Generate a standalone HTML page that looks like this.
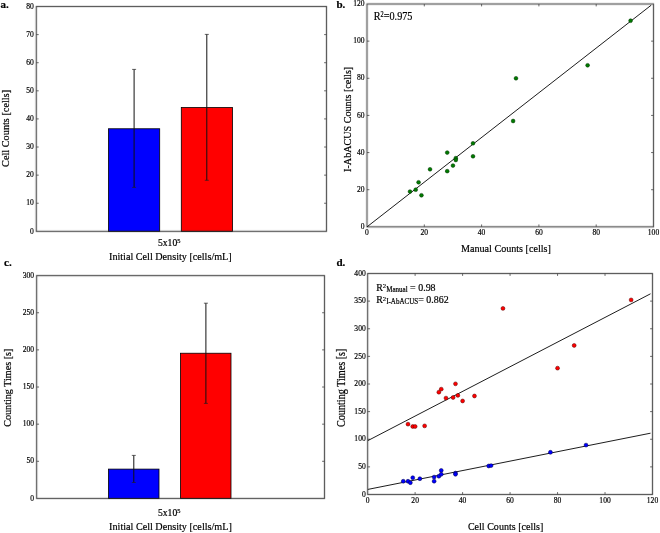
<!DOCTYPE html>
<html><head><meta charset="utf-8"><style>
html,body{margin:0;padding:0;background:#fff;}
svg{display:block;will-change:transform;}
text{font-family:"Liberation Serif", serif;stroke:#000;stroke-width:0.2px;}
</style></head><body>
<svg width="660" height="533" viewBox="0 0 660 533">
<defs><filter id="soft" x="0" y="0" width="660" height="533" filterUnits="userSpaceOnUse" color-interpolation-filters="sRGB"><feConvolveMatrix order="3" kernelMatrix="1 6 1 6 36 6 1 6 1" divisor="64" edgeMode="duplicate"/></filter></defs>
<g>
<rect width="660" height="533" fill="#fff"/>
<rect x="108.5" y="128.76" width="51.2" height="102.59" fill="#0000ff" stroke="#000" stroke-width="0.8"/>
<rect x="181.3" y="107.51" width="51.2" height="123.84" fill="#ff0000" stroke="#000" stroke-width="0.8"/>
<line x1="134.10" y1="69.40" x2="134.10" y2="187.40" stroke="#111" stroke-width="1.0"/>
<line x1="132.10" y1="69.40" x2="136.10" y2="69.40" stroke="#222" stroke-width="0.7"/>
<line x1="132.10" y1="187.40" x2="136.10" y2="187.40" stroke="#222" stroke-width="0.7"/>
<line x1="206.80" y1="34.40" x2="206.80" y2="180.30" stroke="#111" stroke-width="1.0"/>
<line x1="204.80" y1="34.40" x2="208.80" y2="34.40" stroke="#222" stroke-width="0.7"/>
<line x1="204.80" y1="180.30" x2="208.80" y2="180.30" stroke="#222" stroke-width="0.7"/>
<rect x="36.3" y="6.5" width="290.20" height="224.85" fill="none" stroke="#262626" stroke-width="1" filter="url(#soft)"/>
<line x1="36.30" y1="203.24" x2="38.70" y2="203.24" stroke="#444" stroke-width="0.8"/>
<line x1="326.50" y1="203.24" x2="324.10" y2="203.24" stroke="#444" stroke-width="0.8"/>
<line x1="36.30" y1="175.14" x2="38.70" y2="175.14" stroke="#444" stroke-width="0.8"/>
<line x1="326.50" y1="175.14" x2="324.10" y2="175.14" stroke="#444" stroke-width="0.8"/>
<line x1="36.30" y1="147.03" x2="38.70" y2="147.03" stroke="#444" stroke-width="0.8"/>
<line x1="326.50" y1="147.03" x2="324.10" y2="147.03" stroke="#444" stroke-width="0.8"/>
<line x1="36.30" y1="118.92" x2="38.70" y2="118.92" stroke="#444" stroke-width="0.8"/>
<line x1="326.50" y1="118.92" x2="324.10" y2="118.92" stroke="#444" stroke-width="0.8"/>
<line x1="36.30" y1="90.82" x2="38.70" y2="90.82" stroke="#444" stroke-width="0.8"/>
<line x1="326.50" y1="90.82" x2="324.10" y2="90.82" stroke="#444" stroke-width="0.8"/>
<line x1="36.30" y1="62.71" x2="38.70" y2="62.71" stroke="#444" stroke-width="0.8"/>
<line x1="326.50" y1="62.71" x2="324.10" y2="62.71" stroke="#444" stroke-width="0.8"/>
<line x1="36.30" y1="34.61" x2="38.70" y2="34.61" stroke="#444" stroke-width="0.8"/>
<line x1="326.50" y1="34.61" x2="324.10" y2="34.61" stroke="#444" stroke-width="0.8"/>
<rect x="367.0" y="4.0" width="286.50" height="222.85" fill="none" stroke="#262626" stroke-width="1" filter="url(#soft)"/>
<line x1="367.00" y1="189.71" x2="369.40" y2="189.71" stroke="#444" stroke-width="0.8"/>
<line x1="653.50" y1="189.71" x2="651.10" y2="189.71" stroke="#444" stroke-width="0.8"/>
<line x1="367.00" y1="152.57" x2="369.40" y2="152.57" stroke="#444" stroke-width="0.8"/>
<line x1="653.50" y1="152.57" x2="651.10" y2="152.57" stroke="#444" stroke-width="0.8"/>
<line x1="367.00" y1="115.42" x2="369.40" y2="115.42" stroke="#444" stroke-width="0.8"/>
<line x1="653.50" y1="115.42" x2="651.10" y2="115.42" stroke="#444" stroke-width="0.8"/>
<line x1="367.00" y1="78.28" x2="369.40" y2="78.28" stroke="#444" stroke-width="0.8"/>
<line x1="653.50" y1="78.28" x2="651.10" y2="78.28" stroke="#444" stroke-width="0.8"/>
<line x1="367.00" y1="41.14" x2="369.40" y2="41.14" stroke="#444" stroke-width="0.8"/>
<line x1="653.50" y1="41.14" x2="651.10" y2="41.14" stroke="#444" stroke-width="0.8"/>
<line x1="424.30" y1="226.85" x2="424.30" y2="224.45" stroke="#444" stroke-width="0.8"/>
<line x1="424.30" y1="4.00" x2="424.30" y2="6.40" stroke="#444" stroke-width="0.8"/>
<line x1="481.60" y1="226.85" x2="481.60" y2="224.45" stroke="#444" stroke-width="0.8"/>
<line x1="481.60" y1="4.00" x2="481.60" y2="6.40" stroke="#444" stroke-width="0.8"/>
<line x1="538.90" y1="226.85" x2="538.90" y2="224.45" stroke="#444" stroke-width="0.8"/>
<line x1="538.90" y1="4.00" x2="538.90" y2="6.40" stroke="#444" stroke-width="0.8"/>
<line x1="596.20" y1="226.85" x2="596.20" y2="224.45" stroke="#444" stroke-width="0.8"/>
<line x1="596.20" y1="4.00" x2="596.20" y2="6.40" stroke="#444" stroke-width="0.8"/>
<line x1="367.00" y1="226.85" x2="651.20" y2="5.20" stroke="#111" stroke-width="0.95"/>
<circle cx="409.98" cy="191.57" r="1.9" fill="#007a00" stroke="#003300" stroke-width="0.5"/>
<circle cx="415.70" cy="189.71" r="1.9" fill="#007a00" stroke="#003300" stroke-width="0.5"/>
<circle cx="418.57" cy="182.28" r="1.9" fill="#007a00" stroke="#003300" stroke-width="0.5"/>
<circle cx="421.44" cy="195.28" r="1.9" fill="#007a00" stroke="#003300" stroke-width="0.5"/>
<circle cx="430.03" cy="169.28" r="1.9" fill="#007a00" stroke="#003300" stroke-width="0.5"/>
<circle cx="447.22" cy="152.57" r="1.9" fill="#007a00" stroke="#003300" stroke-width="0.5"/>
<circle cx="447.22" cy="171.14" r="1.9" fill="#007a00" stroke="#003300" stroke-width="0.5"/>
<circle cx="452.95" cy="165.57" r="1.9" fill="#007a00" stroke="#003300" stroke-width="0.5"/>
<circle cx="455.81" cy="158.14" r="1.9" fill="#007a00" stroke="#003300" stroke-width="0.5"/>
<circle cx="455.81" cy="160.00" r="1.9" fill="#007a00" stroke="#003300" stroke-width="0.5"/>
<circle cx="473.00" cy="143.28" r="1.9" fill="#007a00" stroke="#003300" stroke-width="0.5"/>
<circle cx="473.00" cy="156.28" r="1.9" fill="#007a00" stroke="#003300" stroke-width="0.5"/>
<circle cx="513.12" cy="121.00" r="1.9" fill="#007a00" stroke="#003300" stroke-width="0.5"/>
<circle cx="515.98" cy="78.28" r="1.9" fill="#007a00" stroke="#003300" stroke-width="0.5"/>
<circle cx="587.61" cy="65.28" r="1.9" fill="#007a00" stroke="#003300" stroke-width="0.5"/>
<circle cx="630.58" cy="20.71" r="1.9" fill="#007a00" stroke="#003300" stroke-width="0.5"/>
<rect x="108.5" y="469.11" width="50.5" height="29.34" fill="#0000ff" stroke="#000" stroke-width="0.8"/>
<rect x="180.5" y="353.23" width="50.5" height="145.22" fill="#ff0000" stroke="#000" stroke-width="0.8"/>
<line x1="133.80" y1="455.40" x2="133.80" y2="482.50" stroke="#111" stroke-width="1.0"/>
<line x1="131.80" y1="455.40" x2="135.80" y2="455.40" stroke="#222" stroke-width="0.7"/>
<line x1="131.80" y1="482.50" x2="135.80" y2="482.50" stroke="#222" stroke-width="0.7"/>
<line x1="205.90" y1="303.20" x2="205.90" y2="403.40" stroke="#111" stroke-width="1.0"/>
<line x1="203.90" y1="303.20" x2="207.90" y2="303.20" stroke="#222" stroke-width="0.7"/>
<line x1="203.90" y1="403.40" x2="207.90" y2="403.40" stroke="#222" stroke-width="0.7"/>
<rect x="36.65" y="275.6" width="287.85" height="222.85" fill="none" stroke="#262626" stroke-width="1" filter="url(#soft)"/>
<line x1="36.65" y1="461.31" x2="39.05" y2="461.31" stroke="#444" stroke-width="0.8"/>
<line x1="324.50" y1="461.31" x2="322.10" y2="461.31" stroke="#444" stroke-width="0.8"/>
<line x1="36.65" y1="424.17" x2="39.05" y2="424.17" stroke="#444" stroke-width="0.8"/>
<line x1="324.50" y1="424.17" x2="322.10" y2="424.17" stroke="#444" stroke-width="0.8"/>
<line x1="36.65" y1="387.03" x2="39.05" y2="387.03" stroke="#444" stroke-width="0.8"/>
<line x1="324.50" y1="387.03" x2="322.10" y2="387.03" stroke="#444" stroke-width="0.8"/>
<line x1="36.65" y1="349.88" x2="39.05" y2="349.88" stroke="#444" stroke-width="0.8"/>
<line x1="324.50" y1="349.88" x2="322.10" y2="349.88" stroke="#444" stroke-width="0.8"/>
<line x1="36.65" y1="312.74" x2="39.05" y2="312.74" stroke="#444" stroke-width="0.8"/>
<line x1="324.50" y1="312.74" x2="322.10" y2="312.74" stroke="#444" stroke-width="0.8"/>
<rect x="367.65" y="273.5" width="284.85" height="221.00" fill="none" stroke="#262626" stroke-width="1" filter="url(#soft)"/>
<line x1="367.65" y1="466.88" x2="370.05" y2="466.88" stroke="#444" stroke-width="0.8"/>
<line x1="652.50" y1="466.88" x2="650.10" y2="466.88" stroke="#444" stroke-width="0.8"/>
<line x1="367.65" y1="439.25" x2="370.05" y2="439.25" stroke="#444" stroke-width="0.8"/>
<line x1="652.50" y1="439.25" x2="650.10" y2="439.25" stroke="#444" stroke-width="0.8"/>
<line x1="367.65" y1="411.62" x2="370.05" y2="411.62" stroke="#444" stroke-width="0.8"/>
<line x1="652.50" y1="411.62" x2="650.10" y2="411.62" stroke="#444" stroke-width="0.8"/>
<line x1="367.65" y1="384.00" x2="370.05" y2="384.00" stroke="#444" stroke-width="0.8"/>
<line x1="652.50" y1="384.00" x2="650.10" y2="384.00" stroke="#444" stroke-width="0.8"/>
<line x1="367.65" y1="356.38" x2="370.05" y2="356.38" stroke="#444" stroke-width="0.8"/>
<line x1="652.50" y1="356.38" x2="650.10" y2="356.38" stroke="#444" stroke-width="0.8"/>
<line x1="367.65" y1="328.75" x2="370.05" y2="328.75" stroke="#444" stroke-width="0.8"/>
<line x1="652.50" y1="328.75" x2="650.10" y2="328.75" stroke="#444" stroke-width="0.8"/>
<line x1="367.65" y1="301.12" x2="370.05" y2="301.12" stroke="#444" stroke-width="0.8"/>
<line x1="652.50" y1="301.12" x2="650.10" y2="301.12" stroke="#444" stroke-width="0.8"/>
<line x1="415.12" y1="494.50" x2="415.12" y2="492.10" stroke="#444" stroke-width="0.8"/>
<line x1="415.12" y1="273.50" x2="415.12" y2="275.90" stroke="#444" stroke-width="0.8"/>
<line x1="462.60" y1="494.50" x2="462.60" y2="492.10" stroke="#444" stroke-width="0.8"/>
<line x1="462.60" y1="273.50" x2="462.60" y2="275.90" stroke="#444" stroke-width="0.8"/>
<line x1="510.07" y1="494.50" x2="510.07" y2="492.10" stroke="#444" stroke-width="0.8"/>
<line x1="510.07" y1="273.50" x2="510.07" y2="275.90" stroke="#444" stroke-width="0.8"/>
<line x1="557.55" y1="494.50" x2="557.55" y2="492.10" stroke="#444" stroke-width="0.8"/>
<line x1="557.55" y1="273.50" x2="557.55" y2="275.90" stroke="#444" stroke-width="0.8"/>
<line x1="605.02" y1="494.50" x2="605.02" y2="492.10" stroke="#444" stroke-width="0.8"/>
<line x1="605.02" y1="273.50" x2="605.02" y2="275.90" stroke="#444" stroke-width="0.8"/>
<line x1="367.90" y1="440.60" x2="650.50" y2="293.80" stroke="#111" stroke-width="0.95"/>
<line x1="367.90" y1="489.40" x2="650.50" y2="433.20" stroke="#111" stroke-width="0.95"/>
<circle cx="408.00" cy="424.17" r="1.95" fill="#ff0000" stroke="#550000" stroke-width="0.5"/>
<circle cx="412.75" cy="426.49" r="1.95" fill="#ff0000" stroke="#550000" stroke-width="0.5"/>
<circle cx="415.12" cy="426.49" r="1.95" fill="#ff0000" stroke="#550000" stroke-width="0.5"/>
<circle cx="424.62" cy="425.88" r="1.95" fill="#ff0000" stroke="#550000" stroke-width="0.5"/>
<circle cx="438.86" cy="392.18" r="1.95" fill="#ff0000" stroke="#550000" stroke-width="0.5"/>
<circle cx="441.24" cy="389.14" r="1.95" fill="#ff0000" stroke="#550000" stroke-width="0.5"/>
<circle cx="455.48" cy="383.83" r="1.95" fill="#ff0000" stroke="#550000" stroke-width="0.5"/>
<circle cx="445.98" cy="398.09" r="1.95" fill="#ff0000" stroke="#550000" stroke-width="0.5"/>
<circle cx="453.10" cy="397.48" r="1.95" fill="#ff0000" stroke="#550000" stroke-width="0.5"/>
<circle cx="457.85" cy="395.38" r="1.95" fill="#ff0000" stroke="#550000" stroke-width="0.5"/>
<circle cx="462.60" cy="400.96" r="1.95" fill="#ff0000" stroke="#550000" stroke-width="0.5"/>
<circle cx="474.47" cy="395.99" r="1.95" fill="#ff0000" stroke="#550000" stroke-width="0.5"/>
<circle cx="502.95" cy="308.42" r="1.95" fill="#ff0000" stroke="#550000" stroke-width="0.5"/>
<circle cx="557.55" cy="368.14" r="1.95" fill="#ff0000" stroke="#550000" stroke-width="0.5"/>
<circle cx="574.17" cy="345.44" r="1.95" fill="#ff0000" stroke="#550000" stroke-width="0.5"/>
<circle cx="631.14" cy="299.91" r="1.95" fill="#ff0000" stroke="#550000" stroke-width="0.5"/>
<circle cx="403.26" cy="481.24" r="1.95" fill="#0000ff" stroke="#000044" stroke-width="0.5"/>
<circle cx="408.00" cy="481.24" r="1.95" fill="#0000ff" stroke="#000044" stroke-width="0.5"/>
<circle cx="410.38" cy="482.68" r="1.95" fill="#0000ff" stroke="#000044" stroke-width="0.5"/>
<circle cx="412.75" cy="477.70" r="1.95" fill="#0000ff" stroke="#000044" stroke-width="0.5"/>
<circle cx="419.87" cy="478.70" r="1.95" fill="#0000ff" stroke="#000044" stroke-width="0.5"/>
<circle cx="434.12" cy="477.10" r="1.95" fill="#0000ff" stroke="#000044" stroke-width="0.5"/>
<circle cx="434.12" cy="481.18" r="1.95" fill="#0000ff" stroke="#000044" stroke-width="0.5"/>
<circle cx="438.86" cy="476.21" r="1.95" fill="#0000ff" stroke="#000044" stroke-width="0.5"/>
<circle cx="441.24" cy="474.28" r="1.95" fill="#0000ff" stroke="#000044" stroke-width="0.5"/>
<circle cx="441.24" cy="470.41" r="1.95" fill="#0000ff" stroke="#000044" stroke-width="0.5"/>
<circle cx="455.48" cy="473.12" r="1.95" fill="#0000ff" stroke="#000044" stroke-width="0.5"/>
<circle cx="455.48" cy="474.28" r="1.95" fill="#0000ff" stroke="#000044" stroke-width="0.5"/>
<circle cx="488.71" cy="465.99" r="1.95" fill="#0000ff" stroke="#000044" stroke-width="0.5"/>
<circle cx="491.08" cy="465.60" r="1.95" fill="#0000ff" stroke="#000044" stroke-width="0.5"/>
<circle cx="550.43" cy="452.29" r="1.95" fill="#0000ff" stroke="#000044" stroke-width="0.5"/>
<circle cx="586.03" cy="445.11" r="1.95" fill="#0000ff" stroke="#000044" stroke-width="0.5"/>
</g>
<g>
<text x="0.00" y="0.00" font-size="8.4" text-anchor="end" font-weight="normal" fill="#000" transform="translate(33.80 233.52) scale(0.9 1)">0</text>
<text x="0.00" y="0.00" font-size="8.4" text-anchor="end" font-weight="normal" fill="#000" transform="translate(33.80 205.42) scale(0.9 1)">10</text>
<text x="0.00" y="0.00" font-size="8.4" text-anchor="end" font-weight="normal" fill="#000" transform="translate(33.80 177.31) scale(0.9 1)">20</text>
<text x="0.00" y="0.00" font-size="8.4" text-anchor="end" font-weight="normal" fill="#000" transform="translate(33.80 149.20) scale(0.9 1)">30</text>
<text x="0.00" y="0.00" font-size="8.4" text-anchor="end" font-weight="normal" fill="#000" transform="translate(33.80 121.10) scale(0.9 1)">40</text>
<text x="0.00" y="0.00" font-size="8.4" text-anchor="end" font-weight="normal" fill="#000" transform="translate(33.80 92.99) scale(0.9 1)">50</text>
<text x="0.00" y="0.00" font-size="8.4" text-anchor="end" font-weight="normal" fill="#000" transform="translate(33.80 64.88) scale(0.9 1)">60</text>
<text x="0.00" y="0.00" font-size="8.4" text-anchor="end" font-weight="normal" fill="#000" transform="translate(33.80 36.78) scale(0.9 1)">70</text>
<text x="0.00" y="0.00" font-size="8.4" text-anchor="end" font-weight="normal" fill="#000" transform="translate(33.80 8.67) scale(0.9 1)">80</text>
<text x="0.50" y="8.00" font-size="11" text-anchor="start" font-weight="bold" fill="#000">a.</text>
<text x="9.10" y="166.90" font-size="11.4" text-anchor="start" font-weight="normal" fill="#000" textLength="77.00" lengthAdjust="spacingAndGlyphs" transform="rotate(-90 9.10 166.90)">Cell Counts [cells]</text>
<text x="158" y="245.9" font-size="9.6">5x10<tspan font-size="6.4" dy="-2.6">5</tspan></text>
<text x="109.00" y="260.10" font-size="11.3" text-anchor="start" font-weight="normal" fill="#000" textLength="122.70" lengthAdjust="spacingAndGlyphs">Initial Cell Density [cells/mL]</text>
<text x="0.00" y="0.00" font-size="8.4" text-anchor="end" font-weight="normal" fill="#000" transform="translate(364.60 229.02) scale(0.9 1)">0</text>
<text x="0.00" y="0.00" font-size="8.4" text-anchor="end" font-weight="normal" fill="#000" transform="translate(364.60 191.88) scale(0.9 1)">20</text>
<text x="0.00" y="0.00" font-size="8.4" text-anchor="end" font-weight="normal" fill="#000" transform="translate(364.60 154.74) scale(0.9 1)">40</text>
<text x="0.00" y="0.00" font-size="8.4" text-anchor="end" font-weight="normal" fill="#000" transform="translate(364.60 117.60) scale(0.9 1)">60</text>
<text x="0.00" y="0.00" font-size="8.4" text-anchor="end" font-weight="normal" fill="#000" transform="translate(364.60 80.46) scale(0.9 1)">80</text>
<text x="0.00" y="0.00" font-size="8.4" text-anchor="end" font-weight="normal" fill="#000" transform="translate(364.60 43.31) scale(0.9 1)">100</text>
<text x="0.00" y="0.00" font-size="8.4" text-anchor="end" font-weight="normal" fill="#000" transform="translate(364.60 6.17) scale(0.9 1)">120</text>
<text x="0.00" y="0.00" font-size="8.4" text-anchor="middle" font-weight="normal" fill="#000" transform="translate(367.00 235.14) scale(0.9 1)">0</text>
<text x="0.00" y="0.00" font-size="8.4" text-anchor="middle" font-weight="normal" fill="#000" transform="translate(424.30 235.14) scale(0.9 1)">20</text>
<text x="0.00" y="0.00" font-size="8.4" text-anchor="middle" font-weight="normal" fill="#000" transform="translate(481.60 235.14) scale(0.9 1)">40</text>
<text x="0.00" y="0.00" font-size="8.4" text-anchor="middle" font-weight="normal" fill="#000" transform="translate(538.90 235.14) scale(0.9 1)">60</text>
<text x="0.00" y="0.00" font-size="8.4" text-anchor="middle" font-weight="normal" fill="#000" transform="translate(596.20 235.14) scale(0.9 1)">80</text>
<text x="0.00" y="0.00" font-size="8.4" text-anchor="middle" font-weight="normal" fill="#000" transform="translate(653.50 235.14) scale(0.9 1)">100</text>
<text x="336.50" y="8.20" font-size="11" text-anchor="start" font-weight="bold" fill="#000">b.</text>
<text x="0" y="0" font-size="11.8" transform="translate(373.8 19.5) scale(0.865 1)">R<tspan font-size="7.3" dy="-2.9">2</tspan><tspan dy="2.9">=0.975</tspan></text>
<text x="461.00" y="252.40" font-size="11.3" text-anchor="start" font-weight="normal" fill="#000" textLength="89.80" lengthAdjust="spacingAndGlyphs">Manual Counts [cells]</text>
<text x="351.00" y="171.90" font-size="11.3" text-anchor="start" font-weight="normal" fill="#000" textLength="105.10" lengthAdjust="spacingAndGlyphs" transform="rotate(-90 351.00 171.90)">I-AbACUS Counts [cells]</text>
<text x="0.00" y="0.00" font-size="8.4" text-anchor="end" font-weight="normal" fill="#000" transform="translate(34.10 500.62) scale(0.9 1)">0</text>
<text x="0.00" y="0.00" font-size="8.4" text-anchor="end" font-weight="normal" fill="#000" transform="translate(34.10 463.48) scale(0.9 1)">50</text>
<text x="0.00" y="0.00" font-size="8.4" text-anchor="end" font-weight="normal" fill="#000" transform="translate(34.10 426.34) scale(0.9 1)">100</text>
<text x="0.00" y="0.00" font-size="8.4" text-anchor="end" font-weight="normal" fill="#000" transform="translate(34.10 389.20) scale(0.9 1)">150</text>
<text x="0.00" y="0.00" font-size="8.4" text-anchor="end" font-weight="normal" fill="#000" transform="translate(34.10 352.06) scale(0.9 1)">200</text>
<text x="0.00" y="0.00" font-size="8.4" text-anchor="end" font-weight="normal" fill="#000" transform="translate(34.10 314.91) scale(0.9 1)">250</text>
<text x="0.00" y="0.00" font-size="8.4" text-anchor="end" font-weight="normal" fill="#000" transform="translate(34.10 277.77) scale(0.9 1)">300</text>
<text x="4.00" y="266.20" font-size="11" text-anchor="start" font-weight="bold" fill="#000">c.</text>
<text x="10.90" y="426.80" font-size="11.3" text-anchor="start" font-weight="normal" fill="#000" textLength="78.20" lengthAdjust="spacingAndGlyphs" transform="rotate(-90 10.90 426.80)">Counting Times [s]</text>
<text x="158" y="515.5" font-size="9.6">5x10<tspan font-size="6.4" dy="-2.6">5</tspan></text>
<text x="109.10" y="529.50" font-size="11.3" text-anchor="start" font-weight="normal" fill="#000" textLength="122.70" lengthAdjust="spacingAndGlyphs">Initial Cell Density [cells/mL]</text>
<text x="0.00" y="0.00" font-size="8.4" text-anchor="end" font-weight="normal" fill="#000" transform="translate(365.70 496.67) scale(0.9 1)">0</text>
<text x="0.00" y="0.00" font-size="8.4" text-anchor="end" font-weight="normal" fill="#000" transform="translate(365.70 469.05) scale(0.9 1)">50</text>
<text x="0.00" y="0.00" font-size="8.4" text-anchor="end" font-weight="normal" fill="#000" transform="translate(365.70 441.42) scale(0.9 1)">100</text>
<text x="0.00" y="0.00" font-size="8.4" text-anchor="end" font-weight="normal" fill="#000" transform="translate(365.70 413.80) scale(0.9 1)">150</text>
<text x="0.00" y="0.00" font-size="8.4" text-anchor="end" font-weight="normal" fill="#000" transform="translate(365.70 386.17) scale(0.9 1)">200</text>
<text x="0.00" y="0.00" font-size="8.4" text-anchor="end" font-weight="normal" fill="#000" transform="translate(365.70 358.55) scale(0.9 1)">250</text>
<text x="0.00" y="0.00" font-size="8.4" text-anchor="end" font-weight="normal" fill="#000" transform="translate(365.70 330.92) scale(0.9 1)">300</text>
<text x="0.00" y="0.00" font-size="8.4" text-anchor="end" font-weight="normal" fill="#000" transform="translate(365.70 303.30) scale(0.9 1)">350</text>
<text x="0.00" y="0.00" font-size="8.4" text-anchor="end" font-weight="normal" fill="#000" transform="translate(365.70 275.67) scale(0.9 1)">400</text>
<text x="0.00" y="0.00" font-size="8.4" text-anchor="middle" font-weight="normal" fill="#000" transform="translate(367.65 502.94) scale(0.9 1)">0</text>
<text x="0.00" y="0.00" font-size="8.4" text-anchor="middle" font-weight="normal" fill="#000" transform="translate(415.12 502.94) scale(0.9 1)">20</text>
<text x="0.00" y="0.00" font-size="8.4" text-anchor="middle" font-weight="normal" fill="#000" transform="translate(462.60 502.94) scale(0.9 1)">40</text>
<text x="0.00" y="0.00" font-size="8.4" text-anchor="middle" font-weight="normal" fill="#000" transform="translate(510.07 502.94) scale(0.9 1)">60</text>
<text x="0.00" y="0.00" font-size="8.4" text-anchor="middle" font-weight="normal" fill="#000" transform="translate(557.55 502.94) scale(0.9 1)">80</text>
<text x="0.00" y="0.00" font-size="8.4" text-anchor="middle" font-weight="normal" fill="#000" transform="translate(605.02 502.94) scale(0.9 1)">100</text>
<text x="0.00" y="0.00" font-size="8.4" text-anchor="middle" font-weight="normal" fill="#000" transform="translate(652.50 502.94) scale(0.9 1)">120</text>
<text x="336.50" y="266.20" font-size="11" text-anchor="start" font-weight="bold" fill="#000">d.</text>
<text x="0" y="0" font-size="10.3" transform="translate(376.2 291) scale(0.965 1)">R<tspan font-size="6.9" dy="-2.9">2</tspan><tspan font-size="7.3" dy="3.8">Manual</tspan><tspan font-size="10.3" dy="-1"> = 0.98</tspan></text>
<text x="0" y="0" font-size="10.3" transform="translate(376.2 303.4) scale(0.965 1)">R<tspan font-size="6.9" dy="-2.9">2</tspan><tspan font-size="7.3" dy="3.8">I-AbACUS</tspan><tspan font-size="10.3" dy="-1">= 0.862</tspan></text>
<text x="345.00" y="427.00" font-size="11.5" text-anchor="start" font-weight="normal" fill="#000" textLength="78.40" lengthAdjust="spacingAndGlyphs" transform="rotate(-90 345.00 427.00)">Counting Times [s]</text>
<text x="467.90" y="530.20" font-size="11.3" text-anchor="start" font-weight="normal" fill="#000" textLength="75.40" lengthAdjust="spacingAndGlyphs">Cell Counts [cells]</text>
</g>
</svg>
</body></html>
